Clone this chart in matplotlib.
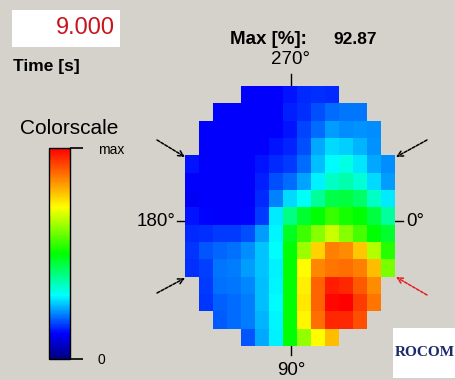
import numpy as np
import matplotlib
matplotlib.use('Agg')
import matplotlib.pyplot as plt
from matplotlib.colors import LinearSegmentedColormap
from matplotlib.patches import Rectangle

plt.rcParams['font.family'] = ['Liberation Sans', 'DejaVu Sans']

nan = np.nan
time_s = 9.000
max_pct = 92.87

# tracer concentration [%] on the 15x15 sensor, row 0 = 270 deg side
conc = [
    [nan] * 4 + [11.0, 11.0, 11.0, 12.5, 13.8, 14.4, 13.8] + [nan] * 4,
    [nan] * 2 + [11.0, 11.0, 11.0, 11.0, 11.0, 13.1, 14.4, 16.4, 18.4, 19.0, 19.0] + [nan] * 2,
    [nan] + [11.0, 11.0, 11.0, 11.0, 11.0, 11.0, 12.5, 15.7, 18.4, 21.7, 20.4, 21.0, 20.4] + [nan],
    [nan] + [11.0, 11.0, 11.0, 11.0, 11.0, 12.5, 13.5, 16.4, 22.3, 25.6, 25.0, 22.9, 21.0] + [nan],
    [12.5, 11.0, 11.0, 11.0, 11.0, 12.5, 13.8, 15.1, 18.4, 23.6, 27.9, 30.0, 26.2, 22.3, 20.4],
    [11.0, 11.0, 11.0, 11.0, 11.0, 13.1, 16.4, 18.4, 22.0, 27.0, 32.0, 34.0, 31.0, 25.6, 21.5],
    [10.5, 11.0, 11.0, 11.0, 11.0, 13.8, 19.7, 25.6, 28.5, 35.5, 41.0, 42.0, 39.0, 32.0, 26.8],
    [12.5, 11.5, 11.0, 11.0, 11.5, 15.1, 26.5, 37.0, 43.0, 46.4, 51.0, 48.0, 46.4, 42.0, 35.0],
    [13.8, 14.4, 15.1, 15.1, 16.4, 21.5, 27.5, 44.0, 51.2, 57.0, 62.5, 57.0, 52.0, 46.4, 43.0],
    [14.8, 17.0, 18.0, 18.7, 20.4, 24.0, 28.0, 46.4, 59.0, 71.4, 79.6, 78.6, 72.4, 60.8, 49.6],
    [14.4, 15.4, 19.0, 19.4, 21.5, 24.0, 27.2, 46.4, 66.9, 79.0, 80.6, 81.6, 79.6, 73.5, 56.1],
    [nan] + [15.1, 18.7, 19.0, 20.0, 23.6, 27.5, 46.4, 68.4, 82.7, 89.8, 88.8, 83.7, 78.6] + [nan],
    [nan] + [14.8, 17.7, 18.4, 19.4, 23.6, 27.9, 46.4, 69.0, 82.7, 91.8, 92.87, 86.7, 80.6] + [nan],
    [nan] * 2 + [17.1, 18.4, 19.4, 22.9, 27.5, 46.4, 67.5, 81.6, 88.8, 88.8, 84.7] + [nan] * 2,
    [nan] * 4 + [17.0, 22.3, 27.2, 46.4, 58.4, 66.9, 73.5] + [nan] * 4,
]

cmap = LinearSegmentedColormap.from_list('colorscale', [
    (0.0, (0, 0, 0.5)), (0.12, (0, 0, 1)), (0.3, (0, 1, 1)),
    (0.5, (0, 1, 0)), (0.72, (1, 1, 0)), (1.0, (1, 0, 0))])

W, H = 456, 380
bg = '#d5d2cb'
fig = plt.figure(figsize=(W / 100, H / 100), dpi=100, facecolor=bg)


def px_axes(x, y, w, h):
    return fig.add_axes([x / W, 1 - (y + h) / H, w / W, h / H])


# overlay in pixel coords for labels
ov = fig.add_axes([0, 0, 1, 1])
ov.set_xlim(0, W)
ov.set_ylim(H, 0)
ov.axis('off')
ov.patch.set_alpha(0)

ov.add_patch(Rectangle((12, 10), 108, 37, color='white', lw=0))
ov.text(115, 28, f'{time_s:.3f}', color='#c8141e', fontsize=17, ha='right', va='center')
ov.text(13, 67, 'Time [s]', fontsize=12.5, fontweight='bold', ha='left', va='center')
ov.text(230, 40, 'Max [%]:', fontsize=13.5, fontweight='bold', ha='left', va='center')
ov.text(333, 40, f'{max_pct:.2f}', fontsize=12.5, fontweight='bold', ha='left', va='center')

ov.text(291, 60, '270°', fontsize=13.5, ha='center', va='center')
ov.plot([291, 291], [74, 86], color='k', lw=1)
ov.text(176, 222, '180°', fontsize=13.5, ha='right', va='center')
ov.plot([177, 185], [221, 221], color='k', lw=1)
ov.text(406, 222, '0°', fontsize=13.5, ha='left', va='center')
ov.plot([395, 403], [221, 221], color='k', lw=1)
ov.text(291, 362, '90°', fontsize=13.5, ha='center', va='top')
ov.plot([291, 291], [346, 355], color='k', lw=1)

arrows = [((157, 140), (185, 157), 'k'), ((427, 140), (396, 157), 'k'),
          ((157, 293), (185, 278), 'k'), ((427, 295), (396, 277), '#e02020')]
for start, end, col in arrows:
    ov.annotate('', xy=end, xytext=start,
                arrowprops=dict(arrowstyle='->', color=col, lw=1.1, linestyle=(0, (2, 1)),
                                shrinkA=0, shrinkB=0))

ov.text(20, 128, 'Colorscale', fontsize=15, ha='left', va='center')

ov.add_patch(Rectangle((393, 328), 63, 50, color='white', lw=0))
ov.text(395, 352, 'ROCOM', fontsize=11, fontweight='bold', family='Liberation Serif',
        color='#1a2a6c', ha='left', va='center')

# sensor map
ax = px_axes(185, 86, 210, 260)
im = ax.imshow(np.array(conc), cmap=cmap, vmin=0, vmax=max_pct, aspect='auto',
               interpolation='nearest')
ax.axis('off')

# colour scale
cax = px_axes(49, 148, 21, 211)
cb = fig.colorbar(im, cax=cax, ticks=[0, max_pct])
cb.ax.set_yticklabels(['0', 'max'])
cb.ax.tick_params(length=9, width=1.2, pad=11, labelsize=10)
cb.outline.set_linewidth(1)

fig.savefig('out.png', dpi=100, facecolor=bg)
